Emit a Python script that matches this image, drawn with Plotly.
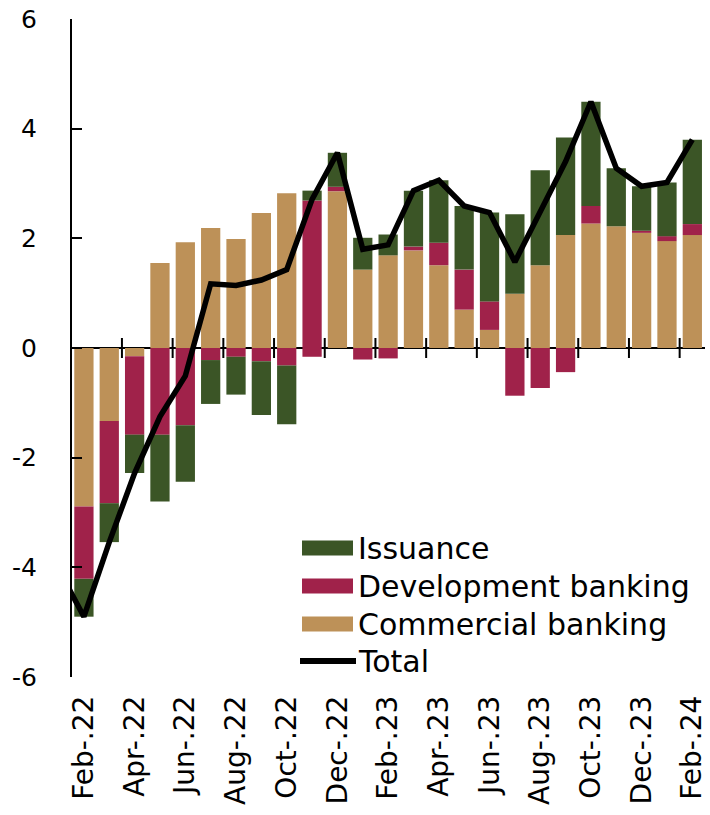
import plotly.graph_objects as go

# ---------------- data ----------------
months = ["Jan-.22", "Feb-.22", "Mar-.22", "Apr-.22", "May-.22", "Jun-.22", "Jul-.22",
          "Aug-.22", "Sep-.22", "Oct-.22", "Nov-.22", "Dec-.22", "Jan-.23", "Feb-.23",
          "Mar-.23", "Apr-.23", "May-.23", "Jun-.23", "Jul-.23", "Aug-.23", "Sep-.23",
          "Oct-.23", "Nov-.23", "Dec-.23", "Jan-.24", "Feb-.24"]

commercial = [None, -2.89, -1.33, -0.15, 1.55, 1.93, 2.19, 1.99, 2.46, 2.82, -0.16, 2.86,
              1.43, 1.69, 1.78, 1.51, 0.70, 0.33, 0.99, 1.51, 2.06, 2.27, 2.22, 2.10, 1.95, 2.06]
development = [None, -1.32, -1.50, -1.43, -1.58, -1.41, -0.22, -0.16, -0.24, -0.32, 2.69, 0.08,
               -0.21, -0.19, 0.07, 0.41, 0.73, 0.52, -0.87, -0.73, -0.44, 0.32, 0.00, 0.04, 0.09, 0.20]
issuance = [None, -0.69, -0.71, -0.70, -1.22, -1.03, -0.80, -0.69, -0.98, -1.07, 0.18, 0.62,
            0.58, 0.38, 1.02, 1.14, 1.16, 1.62, 1.45, 1.73, 1.78, 1.90, 1.06, 0.81, 0.98, 1.54]
total = [-4.03, -4.90, -3.54, -2.28, -1.25, -0.51, 1.17, 1.14, 1.24, 1.43, 2.71, 3.56,
         1.80, 1.88, 2.87, 3.06, 2.59, 2.47, 1.57, 2.51, 3.40, 4.49, 3.28, 2.95, 3.02, 3.80]

tick_labels = months[1::2]
yticks = [-6, -4, -2, 0, 2, 4, 6]

# ---------------- style ----------------
C_ISS = "#3B5526"
C_DEV = "#A0224A"
C_COM = "#BD9158"
FONT = "DejaVu Sans"

# Nov-22 negative sliver drawn in the development colour (as in the source chart)
com_colors = [C_DEV if m == "Nov-.22" else C_COM for m in months]

fig = go.Figure()
fig.add_trace(go.Bar(x=months, y=commercial, name="Commercial banking",
                     marker=dict(color=com_colors, line=dict(width=0)), showlegend=False))
fig.add_trace(go.Bar(x=months, y=development, name="Development banking",
                     marker=dict(color=C_DEV, line=dict(width=0)), showlegend=False))
fig.add_trace(go.Bar(x=months, y=issuance, name="Issuance",
                     marker=dict(color=C_ISS, line=dict(width=0)), showlegend=False))
fig.add_trace(go.Scatter(x=months, y=total, name="Total", mode="lines",
                         line=dict(color="black", width=5.5), showlegend=False))

# tick marks crossing the zero line, between categories (every 2 months)
shapes = []
for i in range(2, len(months), 2):
    shapes.append(dict(type="line", xref="x", yref="y", x0=i + 0.5, x1=i + 0.5,
                       ysizemode="pixel", yanchor=0, y0=-10, y1=10,
                       line=dict(color="black", width=2)))

# custom legend
L, R, T, B = 72, 5, 19, 138
W, H = 710, 815
pw, ph = W - L - R, H - T - B

def px_x(px):
    return (px - L) / pw

def px_y(py):
    return (H - B - py) / ph

legend_items = [("Issuance", C_ISS, "bar", 548),
                ("Development banking", C_DEV, "bar", 586),
                ("Commercial banking", C_COM, "bar", 624),
                ("Total", "black", "line", 661)]
annotations = []
for label, col, kind, ypx in legend_items:
    if kind == "bar":
        shapes.append(dict(type="rect", xref="paper", yref="paper",
                           x0=px_x(302), x1=px_x(353), y0=px_y(ypx + 7.5), y1=px_y(ypx - 7.5),
                           fillcolor=col, line=dict(width=0)))
    else:
        shapes.append(dict(type="line", xref="paper", yref="paper",
                           x0=px_x(300), x1=px_x(356), y0=px_y(ypx), y1=px_y(ypx),
                           line=dict(color=col, width=6)))
    annotations.append(dict(text=label, xref="paper", yref="paper", x=px_x(356), y=px_y(ypx),
                            xanchor="left", yanchor="middle", showarrow=False,
                            font=dict(family=FONT, size=30, color="black")))

fig.update_layout(
    width=W, height=H,
    margin=dict(l=L, r=R, t=T, b=B, pad=0),
    barmode="relative", bargap=0.24,
    plot_bgcolor="white", paper_bgcolor="white",
    font=dict(family=FONT, size=25, color="black"),
    shapes=shapes, annotations=annotations,
    xaxis=dict(type="category", categoryorder="array", categoryarray=months,
               range=[0.53, len(months) - 0.5],
               tickmode="array", tickvals=tick_labels, ticktext=tick_labels,
               tickangle=-90, ticks="", showline=False, showgrid=False, zeroline=False,
               automargin=False,
               ticklabelstandoff=12, tickfont=dict(family=FONT, size=28, color="black")),
    yaxis=dict(range=[-6, 6], tickmode="array", tickvals=yticks,
               ticktext=[str(v) for v in yticks],
               showline=True, linecolor="black", linewidth=2,
               ticks="inside", ticklen=10, tickwidth=2, tickcolor="black",
               showgrid=False, zeroline=True, zerolinecolor="black", zerolinewidth=2,
               automargin=False,
               ticklabelstandoff=28, tickfont=dict(family=FONT, size=25, color="black")),
)

fig.write_html("out.html",
               config={"displayModeBar": False},
               post_script="document.body.style.margin='0';document.body.style.padding='0';")
